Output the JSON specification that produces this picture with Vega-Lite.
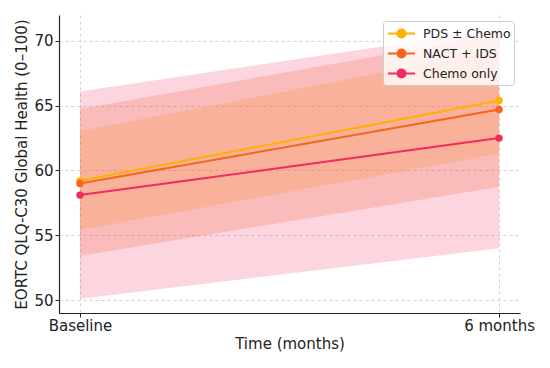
{
  "$schema": "https://vega.github.io/schema/vega-lite/v6.json",
  "width": 461,
  "height": 298,
  "autosize": {"type": "none"},
  "padding": {"left": 59, "top": 15, "right": 30, "bottom": 55},
  "background": "white",
  "config": {
    "font": "DejaVu Sans",
    "view": {"stroke": null},
    "axis": {
      "labelFont": "DejaVu Sans",
      "titleFont": "DejaVu Sans",
      "labelFontSize": 15,
      "titleFontSize": 15,
      "titleFontWeight": "normal",
      "labelColor": "#222222",
      "titleColor": "#222222",
      "domainColor": "#222222",
      "domainWidth": 1.2,
      "tickColor": "#222222",
      "tickSize": 4,
      "tickWidth": 1,
      "gridColor": "#c8c8c8",
      "gridDash": [3, 3],
      "gridWidth": 0.8
    }
  },
  "data": {
    "values": [
      {"group": "PDS ± Chemo", "time": 0, "mean": 59.2, "lo": 55.4, "hi": 63.05},
      {"group": "PDS ± Chemo", "time": 6, "mean": 65.4, "lo": 61.3, "hi": 69.3},
      {"group": "NACT + IDS", "time": 0, "mean": 59.0, "lo": 53.4, "hi": 64.75},
      {"group": "NACT + IDS", "time": 6, "mean": 64.7, "lo": 58.75, "hi": 70.5},
      {"group": "Chemo only", "time": 0, "mean": 58.1, "lo": 50.1, "hi": 66.1},
      {"group": "Chemo only", "time": 6, "mean": 62.5, "lo": 54.0, "hi": 70.9}
    ]
  },
  "encoding": {
    "x": {
      "field": "time",
      "type": "quantitative",
      "scale": {"domain": [-0.3, 6.3], "nice": false, "zero": false},
      "axis": {
        "title": "Time (months)",
        "values": [0, 6],
        "labelExpr": "datum.value == 0 ? 'Baseline' : '6 months'",
        "labelPadding": 1,
        "titlePadding": 3,
        "grid": true,
        "labelFlush": false
      }
    },
    "color": {
      "field": "group",
      "type": "nominal",
      "scale": {
        "domain": ["PDS ± Chemo", "NACT + IDS", "Chemo only"],
        "range": ["#ffb000", "#f4661e", "#f02d5a"]
      },
      "legend": {
        "title": null,
        "orient": "top-right",
        "offset": 6,
        "fillColor": "rgba(255,255,255,0.8)",
        "strokeColor": "#cccccc",
        "cornerRadius": 3,
        "padding": 3,
        "labelFontSize": 12.5,
        "labelColor": "#222222",
        "labelFont": "DejaVu Sans",
        "rowPadding": 2,
        "symbolType": "M-1.6,0H1.6M0.47,0A0.47,0.47,0,1,1,-0.47,0A0.47,0.47,0,1,1,0.47,0Z",
        "symbolSize": 289,
        "symbolOffset": 6,
        "labelOffset": 12,
        "symbolStrokeWidth": 2,
        "symbolOpacity": 1,
        "symbolFillColor": "transparent",
        "encode": {
          "symbols": {"update": {"fill": {"scale": "color", "field": "value"}, "fillOpacity": {"value": 1}, "opacity": {"value": 1}}}
        }
      }
    }
  },
  "layer": [
    {
      "mark": {"type": "area", "opacity": 0.2},
      "encoding": {
        "y": {
          "field": "lo",
          "type": "quantitative",
          "scale": {"domain": [49, 72], "nice": false, "zero": false},
          "axis": {
            "title": "EORTC QLQ-C30 Global Health (0–100)",
            "values": [50, 55, 60, 65, 70],
            "labelPadding": 2,
            "titlePadding": 4,
            "grid": true
          }
        },
        "y2": {"field": "hi"}
      }
    },
    {
      "mark": {"type": "line", "strokeWidth": 2},
      "encoding": {"y": {"field": "mean", "type": "quantitative"}}
    },
    {
      "mark": {"type": "point", "filled": true, "size": 55, "opacity": 1},
      "encoding": {"y": {"field": "mean", "type": "quantitative"}}
    }
  ]
}
